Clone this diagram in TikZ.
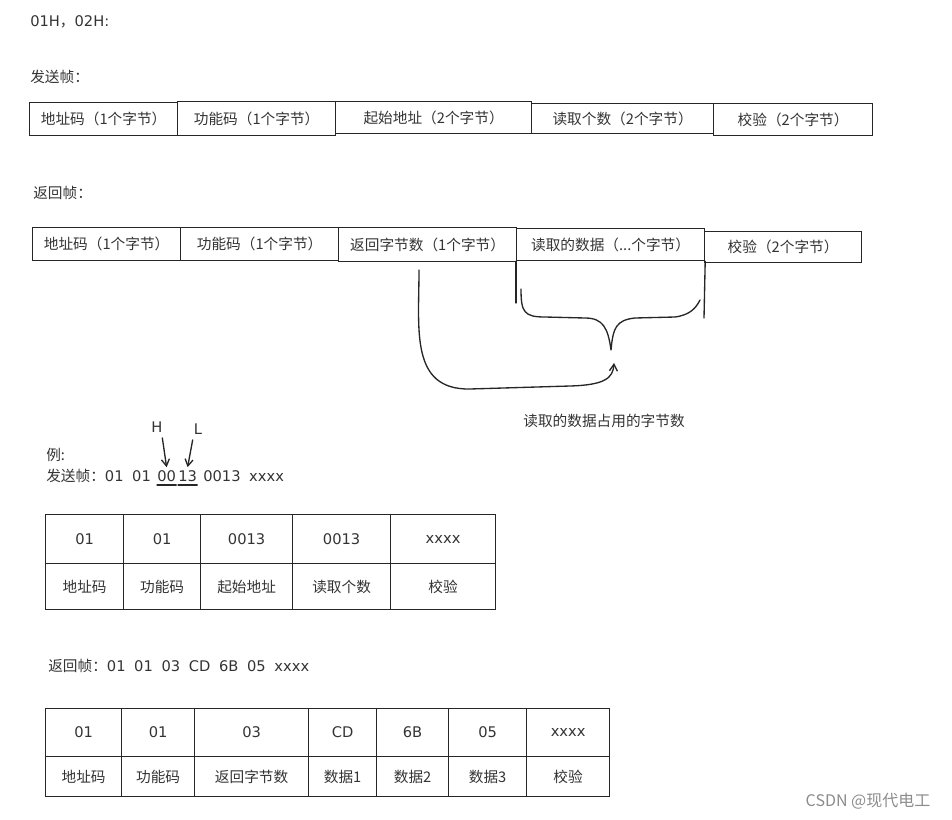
\documentclass[tikz,border=0pt]{standalone}
\usepackage{fontspec}
\setmainfont{Noto Sans CJK SC}
\newfontfamily\lat{DejaVu Sans}
\usetikzlibrary{arrows.meta}
\newcommand\fs{\fontsize{11}{13}\selectfont}
\newcommand\gap{\hspace{6.5pt}}
\newcommand\cellbox[6]{\node[box, minimum width={(#4-#2)*0.75pt}, minimum height={(#5-#3)*0.75pt}] (#1) at (#2,#3) {#6};}
\begin{document}
\begin{tikzpicture}[x=0.75pt,y=-0.75pt,
  box/.style={draw=black!85, line width=0.9pt, inner sep=0pt, anchor=north west, font=\fs, text=black!80},
  txt/.style={inner sep=0pt, font=\fs, text=black!80},
  ink/.style={draw=black!85, line width=1pt, line cap=round, line join=round},
  hand/.style={ink, -{Straight Barb[length=5pt,width=6pt]}}]
\useasboundingbox (0,0) rectangle (952,820);
% headings
\node[txt, anchor=west] (hdr) at (30,22) {{\lat 01H}，{\lat 02H:}};
\node[txt, anchor=west] (sendlbl) at (30,77) {发送帧：};
% send frame
\cellbox{s1}{29}{102}{177}{135}{地址码（1个字节）}
\cellbox{s2}{177}{101}{335}{135}{功能码（1个字节）}
\cellbox{s3}{335}{101}{531}{133}{起始地址（2个字节）}
\cellbox{s4}{531}{103}{713}{133}{读取个数（2个字节）}
\cellbox{s5}{713}{103}{872}{135}{校验（2个字节）}
% return frame
\node[txt, anchor=west] (retlbl) at (33,193) {返回帧：};
\cellbox{r1}{32}{227}{180}{260}{地址码（1个字节）}
\cellbox{r2}{180}{227}{338}{260}{功能码（1个字节）}
\cellbox{r3}{338}{227}{516}{261}{返回字节数（1个字节）}
\cellbox{r4}{516}{228}{704}{260}{读取的数据（...个字节）}
\cellbox{r5}{704}{231}{861}{262}{校验（2个字节）}
% brackets below r4
\coordinate (vl) at (516,303);
\coordinate (vr) at (704,318);
\draw[ink] (r4.south west) -- (vl);
\draw[ink] (r4.south east) -- (vr);
\coordinate (tip) at (611,350);
\draw[ink] (521,289) .. controls (521,312) and (524,317) .. (545,317)
  -- (585,318) .. controls (603,318) and (608,328) .. (tip)
  .. controls (613,328) and (616,320) .. (635,318)
  -- (675,317) .. controls (690,315) and (696,308) .. (700,300);
% arrow from r3 to brace
\coordinate (astart) at (419,270);
\coordinate (aend) at (614,363);
\draw[hand] (astart) .. controls (419,330) and (410,390) .. (470,389)
  -- (570,386) .. controls (605,385) and (613,378) .. (aend);
\node[txt] (bracelbl) at (604,421) {读取的数据占用的字节数};
% example send
\node[txt, anchor=west] (ex) at (46,455) {例:};
\node[txt, anchor=base west] (e1) at (46,481) {发送帧：{\lat 01\gap 01}};
\node[txt, anchor=base west] (e2) at (157,481) {\lat 00};
\node[txt, anchor=base west] (e3) at (178,481) {\lat 13};
\node[txt, anchor=base west] (e4) at (203,481) {\lat 0013\gap xxxx};
\draw[ink] ([yshift=-3pt]e2.base west) -- ([yshift=-3pt]e2.base east);
\draw[ink] ([yshift=-3pt]e3.base west) -- ([yshift=-3pt]e3.base east);
\node[txt] (hH) at (157,427) {\lat H};
\node[txt] (hL) at (198,429) {\lat L};
\coordinate (hHe) at ([yshift=2pt]e2.north);
\coordinate (hLe) at ([yshift=2pt]e3.north);
\draw[hand] ([yshift=-4pt,xshift=4pt]hH.south) -- (hHe);
\draw[hand] ([yshift=-4pt,xshift=-4pt]hL.south) -- (hLe);
% table 1
\cellbox{a1}{45}{514}{123}{563}{\lat 01}
\cellbox{a2}{123}{514}{200}{563}{\lat 01}
\cellbox{a3}{200}{514}{292}{563}{\lat 0013}
\cellbox{a4}{292}{514}{390}{563}{\lat 0013}
\cellbox{a5}{390}{514}{495}{563}{\lat xxxx}
\cellbox{b1}{45}{563}{123}{609}{地址码}
\cellbox{b2}{123}{563}{200}{609}{功能码}
\cellbox{b3}{200}{563}{292}{609}{起始地址}
\cellbox{b4}{292}{563}{390}{609}{读取个数}
\cellbox{b5}{390}{563}{495}{609}{校验}
% example return
\node[txt, anchor=west] (rt) at (48,666) {返回帧：{\lat 01\gap 01\gap 03\gap CD\gap 6B\gap 05\gap xxxx}};
% table 2
\cellbox{c1}{45}{708}{121}{756}{\lat 01}
\cellbox{c2}{121}{708}{194}{756}{\lat 01}
\cellbox{c3}{194}{708}{308}{756}{\lat 03}
\cellbox{c4}{308}{708}{376}{756}{\lat CD}
\cellbox{c5}{376}{708}{448}{756}{\lat 6B}
\cellbox{c6}{448}{708}{526}{756}{\lat 05}
\cellbox{c7}{526}{708}{609}{756}{\lat xxxx}
\cellbox{d1}{45}{756}{121}{796}{地址码}
\cellbox{d2}{121}{756}{194}{796}{功能码}
\cellbox{d3}{194}{756}{308}{796}{返回字节数}
\cellbox{d4}{308}{756}{376}{796}{数据1}
\cellbox{d5}{376}{756}{448}{796}{数据2}
\cellbox{d6}{448}{756}{526}{796}{数据3}
\cellbox{d7}{526}{756}{609}{796}{校验}
% watermark
\node[inner sep=0pt, font=\fontsize{12}{14}\selectfont, text=black!45] (wm) at (868,801) {CSDN @现代电工};
\end{tikzpicture}
\end{document}
